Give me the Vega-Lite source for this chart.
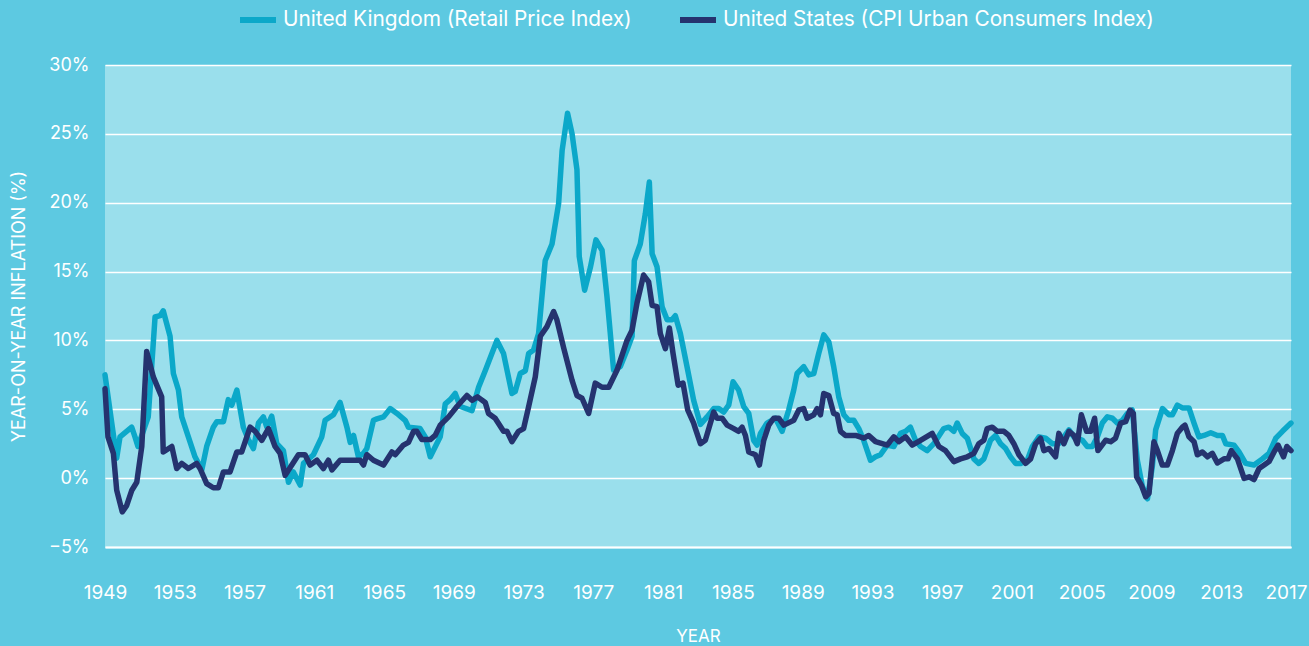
{
  "$schema": "https://vega.github.io/schema/vega-lite/v6.json",
  "autosize": "none",
  "width": 1186,
  "height": 482,
  "padding": {"left": 105, "top": 65, "right": 18, "bottom": 99},
  "background": "#5DC9E1",
  "config": {
    "view": {"fill": "#9ADFEC", "stroke": null},
    "font": "Inter",
    "axis": {"labelFont": "Inter", "titleFont": "Inter", "titleFontWeight": "normal", "labelColor": "#ffffff", "titleColor": "#ffffff"},
    "legend": {"labelFont": "Inter"}
  },
  "datasets": {
    "uk": [
      {"year":1949.00,"value":7.5},{"year":1949.67,"value":1.45},{"year":1949.86,"value":3.0},{"year":1950.53,"value":3.7},{"year":1950.72,"value":3.0},{"year":1950.89,"value":2.3},{"year":1951.48,"value":4.45},{"year":1951.87,"value":11.7},{"year":1952.16,"value":11.8},{"year":1952.34,"value":12.15},{"year":1952.73,"value":10.3},{"year":1952.92,"value":7.6},{"year":1953.21,"value":6.4},{"year":1953.40,"value":4.45},{"year":1953.78,"value":3.0},{"year":1954.16,"value":1.55},{"year":1954.55,"value":0.6},{"year":1954.83,"value":2.3},{"year":1955.21,"value":3.7},{"year":1955.41,"value":4.1},{"year":1955.79,"value":4.1},{"year":1956.07,"value":5.7},{"year":1956.27,"value":5.3},{"year":1956.56,"value":6.4},{"year":1956.93,"value":3.7},{"year":1957.22,"value":2.8},{"year":1957.51,"value":2.15},{"year":1957.80,"value":4.0},{"year":1958.08,"value":4.45},{"year":1958.28,"value":3.7},{"year":1958.56,"value":4.5},{"year":1958.85,"value":2.5},{"year":1959.23,"value":2.0},{"year":1959.52,"value":-0.3},{"year":1959.80,"value":0.45},{"year":1960.19,"value":-0.5},{"year":1960.38,"value":1.07},{"year":1960.95,"value":1.7},{"year":1961.43,"value":3.0},{"year":1961.62,"value":4.2},{"year":1962.10,"value":4.6},{"year":1962.48,"value":5.5},{"year":1962.87,"value":3.7},{"year":1963.06,"value":2.6},{"year":1963.25,"value":3.1},{"year":1963.53,"value":1.55},{"year":1963.82,"value":1.8},{"year":1964.01,"value":2.15},{"year":1964.39,"value":4.2},{"year":1964.59,"value":4.3},{"year":1964.97,"value":4.45},{"year":1965.35,"value":5.05},{"year":1965.74,"value":4.7},{"year":1966.21,"value":4.2},{"year":1966.40,"value":3.7},{"year":1967.07,"value":3.6},{"year":1967.36,"value":3.0},{"year":1967.65,"value":1.55},{"year":1968.22,"value":3.0},{"year":1968.51,"value":5.4},{"year":1968.79,"value":5.7},{"year":1969.08,"value":6.15},{"year":1969.37,"value":5.2},{"year":1970.04,"value":4.9},{"year":1970.42,"value":6.6},{"year":1970.80,"value":7.8},{"year":1971.47,"value":10.0},{"year":1971.85,"value":9.05},{"year":1972.33,"value":6.15},{"year":1972.52,"value":6.3},{"year":1972.81,"value":7.6},{"year":1973.10,"value":7.8},{"year":1973.29,"value":9.05},{"year":1973.57,"value":9.3},{"year":1973.86,"value":10.5},{"year":1974.24,"value":15.8},{"year":1974.63,"value":17.0},{"year":1975.01,"value":19.95},{"year":1975.21,"value":23.8},{"year":1975.52,"value":26.5},{"year":1975.78,"value":25.0},{"year":1976.06,"value":22.4},{"year":1976.19,"value":16.1},{"year":1976.50,"value":13.65},{"year":1976.83,"value":15.3},{"year":1977.15,"value":17.3},{"year":1977.50,"value":16.55},{"year":1977.78,"value":13.2},{"year":1978.16,"value":7.85},{"year":1978.55,"value":8.1},{"year":1978.93,"value":9.3},{"year":1979.22,"value":10.3},{"year":1979.35,"value":15.8},{"year":1979.69,"value":17.0},{"year":1979.98,"value":19.2},{"year":1980.21,"value":21.5},{"year":1980.37,"value":16.3},{"year":1980.65,"value":15.35},{"year":1980.94,"value":12.45},{"year":1981.23,"value":11.5},{"year":1981.51,"value":11.5},{"year":1981.70,"value":11.8},{"year":1981.99,"value":10.5},{"year":1982.37,"value":8.1},{"year":1982.75,"value":5.65},{"year":1983.14,"value":3.9},{"year":1983.52,"value":4.45},{"year":1983.90,"value":5.05},{"year":1984.19,"value":5.05},{"year":1984.47,"value":4.8},{"year":1984.76,"value":5.3},{"year":1985.01,"value":7.0},{"year":1985.33,"value":6.4},{"year":1985.62,"value":5.2},{"year":1985.91,"value":4.7},{"year":1986.19,"value":2.75},{"year":1986.39,"value":2.4},{"year":1986.58,"value":3.25},{"year":1986.96,"value":4.0},{"year":1987.44,"value":4.35},{"year":1987.82,"value":3.4},{"year":1988.20,"value":4.95},{"year":1988.49,"value":6.4},{"year":1988.68,"value":7.6},{"year":1989.06,"value":8.1},{"year":1989.35,"value":7.5},{"year":1989.64,"value":7.6},{"year":1989.92,"value":9.05},{"year":1990.21,"value":10.4},{"year":1990.50,"value":9.9},{"year":1990.78,"value":8.1},{"year":1991.07,"value":5.9},{"year":1991.36,"value":4.6},{"year":1991.64,"value":4.2},{"year":1991.93,"value":4.2},{"year":1992.22,"value":3.6},{"year":1992.50,"value":2.75},{"year":1992.89,"value":1.3},{"year":1993.18,"value":1.55},{"year":1993.46,"value":1.7},{"year":1993.85,"value":2.4},{"year":1994.23,"value":2.3},{"year":1994.61,"value":3.25},{"year":1994.90,"value":3.4},{"year":1995.18,"value":3.7},{"year":1995.47,"value":2.75},{"year":1995.76,"value":2.3},{"year":1996.14,"value":2.0},{"year":1996.52,"value":2.5},{"year":1997.09,"value":3.6},{"year":1997.38,"value":3.7},{"year":1997.67,"value":3.4},{"year":1997.86,"value":4.0},{"year":1998.15,"value":3.25},{"year":1998.44,"value":2.9},{"year":1998.82,"value":1.4},{"year":1999.10,"value":1.07},{"year":1999.39,"value":1.4},{"year":1999.77,"value":2.75},{"year":2000.06,"value":3.1},{"year":2000.35,"value":2.5},{"year":2000.64,"value":2.15},{"year":2000.92,"value":1.55},{"year":2001.21,"value":1.07},{"year":2001.50,"value":1.07},{"year":2001.88,"value":1.3},{"year":2002.17,"value":2.3},{"year":2002.55,"value":3.0},{"year":2002.93,"value":2.9},{"year":2003.31,"value":2.5},{"year":2003.69,"value":2.5},{"year":2004.27,"value":3.5},{"year":2004.55,"value":3.0},{"year":2005.04,"value":2.75},{"year":2005.32,"value":2.3},{"year":2005.61,"value":2.3},{"year":2005.90,"value":3.0},{"year":2006.18,"value":4.0},{"year":2006.47,"value":4.45},{"year":2006.76,"value":4.35},{"year":2007.04,"value":4.0},{"year":2007.33,"value":4.2},{"year":2007.62,"value":4.7},{"year":2007.90,"value":4.95},{"year":2008.19,"value":1.3},{"year":2008.48,"value":-0.6},{"year":2008.77,"value":-1.5},{"year":2009.05,"value":0.85},{"year":2009.24,"value":3.5},{"year":2009.63,"value":5.05},{"year":2010.00,"value":4.6},{"year":2010.20,"value":4.6},{"year":2010.48,"value":5.3},{"year":2010.77,"value":5.1},{"year":2011.15,"value":5.1},{"year":2011.44,"value":4.0},{"year":2011.72,"value":3.0},{"year":2012.01,"value":3.1},{"year":2012.40,"value":3.3},{"year":2012.78,"value":3.1},{"year":2013.07,"value":3.1},{"year":2013.26,"value":2.5},{"year":2013.73,"value":2.4},{"year":2014.02,"value":1.9},{"year":2014.40,"value":1.07},{"year":2014.88,"value":0.95},{"year":2015.36,"value":1.4},{"year":2015.74,"value":1.8},{"year":2016.13,"value":2.9},{"year":2016.51,"value":3.4},{"year":2017.00,"value":4.0}
    ],
    "us": [
      {"year":1949.00,"value":6.5},{"year":1949.17,"value":3.0},{"year":1949.48,"value":1.8},{"year":1949.67,"value":-0.87},{"year":1949.99,"value":-2.45},{"year":1950.24,"value":-2.0},{"year":1950.53,"value":-0.9},{"year":1950.82,"value":-0.3},{"year":1951.11,"value":2.3},{"year":1951.39,"value":9.2},{"year":1951.77,"value":7.35},{"year":1952.25,"value":5.9},{"year":1952.34,"value":1.9},{"year":1952.83,"value":2.3},{"year":1953.11,"value":0.7},{"year":1953.40,"value":1.07},{"year":1953.78,"value":0.7},{"year":1954.26,"value":1.07},{"year":1954.45,"value":0.7},{"year":1954.83,"value":-0.4},{"year":1955.21,"value":-0.7},{"year":1955.50,"value":-0.7},{"year":1955.79,"value":0.45},{"year":1956.17,"value":0.45},{"year":1956.56,"value":1.9},{"year":1956.84,"value":1.9},{"year":1957.32,"value":3.7},{"year":1957.61,"value":3.4},{"year":1957.99,"value":2.75},{"year":1958.37,"value":3.6},{"year":1958.75,"value":2.3},{"year":1959.04,"value":1.8},{"year":1959.33,"value":0.2},{"year":1959.71,"value":0.95},{"year":1960.09,"value":1.7},{"year":1960.47,"value":1.7},{"year":1960.76,"value":0.95},{"year":1961.15,"value":1.3},{"year":1961.52,"value":0.7},{"year":1961.81,"value":1.3},{"year":1962.01,"value":0.6},{"year":1962.48,"value":1.3},{"year":1963.63,"value":1.3},{"year":1963.82,"value":0.95},{"year":1964.01,"value":1.7},{"year":1964.39,"value":1.3},{"year":1964.97,"value":0.95},{"year":1965.45,"value":1.9},{"year":1965.64,"value":1.7},{"year":1966.11,"value":2.4},{"year":1966.40,"value":2.6},{"year":1966.69,"value":3.4},{"year":1966.88,"value":3.4},{"year":1967.17,"value":2.8},{"year":1967.65,"value":2.8},{"year":1967.93,"value":3.1},{"year":1968.22,"value":3.85},{"year":1968.70,"value":4.45},{"year":1969.18,"value":5.2},{"year":1969.75,"value":6.0},{"year":1970.04,"value":5.65},{"year":1970.36,"value":5.9},{"year":1970.80,"value":5.5},{"year":1970.99,"value":4.7},{"year":1971.37,"value":4.35},{"year":1971.85,"value":3.4},{"year":1972.05,"value":3.4},{"year":1972.33,"value":2.65},{"year":1972.71,"value":3.4},{"year":1973.00,"value":3.6},{"year":1973.29,"value":5.2},{"year":1973.67,"value":7.35},{"year":1973.96,"value":10.3},{"year":1974.34,"value":11.0},{"year":1974.72,"value":12.1},{"year":1974.91,"value":11.5},{"year":1975.29,"value":9.5},{"year":1975.78,"value":7.1},{"year":1976.06,"value":6.0},{"year":1976.35,"value":5.8},{"year":1976.73,"value":4.7},{"year":1977.11,"value":6.9},{"year":1977.50,"value":6.6},{"year":1977.88,"value":6.6},{"year":1978.36,"value":7.85},{"year":1978.93,"value":10.0},{"year":1979.22,"value":10.75},{"year":1979.50,"value":12.7},{"year":1979.88,"value":14.75},{"year":1980.17,"value":14.25},{"year":1980.37,"value":12.55},{"year":1980.65,"value":12.45},{"year":1980.84,"value":10.5},{"year":1981.13,"value":9.4},{"year":1981.36,"value":10.9},{"year":1981.57,"value":9.05},{"year":1981.86,"value":6.75},{"year":1982.14,"value":6.9},{"year":1982.41,"value":4.95},{"year":1982.75,"value":4.0},{"year":1982.85,"value":3.6},{"year":1983.14,"value":2.5},{"year":1983.42,"value":2.75},{"year":1983.90,"value":4.8},{"year":1984.09,"value":4.35},{"year":1984.38,"value":4.35},{"year":1984.67,"value":3.85},{"year":1985.05,"value":3.6},{"year":1985.33,"value":3.4},{"year":1985.53,"value":3.7},{"year":1985.72,"value":3.1},{"year":1985.91,"value":1.9},{"year":1986.29,"value":1.7},{"year":1986.52,"value":0.95},{"year":1986.77,"value":2.75},{"year":1987.06,"value":3.85},{"year":1987.34,"value":4.35},{"year":1987.63,"value":4.35},{"year":1987.92,"value":3.85},{"year":1988.49,"value":4.2},{"year":1988.78,"value":4.95},{"year":1989.06,"value":5.05},{"year":1989.26,"value":4.35},{"year":1989.64,"value":4.6},{"year":1989.83,"value":5.05},{"year":1990.02,"value":4.6},{"year":1990.21,"value":6.15},{"year":1990.50,"value":6.0},{"year":1990.78,"value":4.7},{"year":1990.98,"value":4.6},{"year":1991.17,"value":3.4},{"year":1991.45,"value":3.1},{"year":1992.03,"value":3.1},{"year":1992.51,"value":2.9},{"year":1992.79,"value":3.1},{"year":1993.18,"value":2.65},{"year":1993.85,"value":2.4},{"year":1994.23,"value":3.0},{"year":1994.51,"value":2.65},{"year":1994.90,"value":3.0},{"year":1995.28,"value":2.4},{"year":1995.76,"value":2.75},{"year":1996.43,"value":3.25},{"year":1996.81,"value":2.3},{"year":1997.19,"value":2.0},{"year":1997.67,"value":1.2},{"year":1998.05,"value":1.4},{"year":1998.44,"value":1.55},{"year":1998.82,"value":1.8},{"year":1999.10,"value":2.5},{"year":1999.39,"value":2.75},{"year":1999.58,"value":3.6},{"year":1999.87,"value":3.7},{"year":2000.16,"value":3.4},{"year":2000.54,"value":3.4},{"year":2000.82,"value":3.1},{"year":2001.11,"value":2.5},{"year":2001.40,"value":1.7},{"year":2001.78,"value":1.07},{"year":2002.07,"value":1.4},{"year":2002.36,"value":2.5},{"year":2002.64,"value":2.9},{"year":2002.83,"value":2.0},{"year":2003.12,"value":2.15},{"year":2003.50,"value":1.55},{"year":2003.69,"value":3.25},{"year":2003.98,"value":2.5},{"year":2004.27,"value":3.4},{"year":2004.55,"value":3.1},{"year":2004.75,"value":2.5},{"year":2004.98,"value":4.6},{"year":2005.28,"value":3.4},{"year":2005.51,"value":3.4},{"year":2005.74,"value":4.35},{"year":2005.93,"value":2.0},{"year":2006.37,"value":2.75},{"year":2006.66,"value":2.65},{"year":2006.94,"value":2.9},{"year":2007.23,"value":4.0},{"year":2007.52,"value":4.1},{"year":2007.77,"value":4.95},{"year":2007.96,"value":4.7},{"year":2008.15,"value":0.1},{"year":2008.42,"value":-0.5},{"year":2008.67,"value":-1.35},{"year":2008.86,"value":-1.1},{"year":2009.14,"value":2.65},{"year":2009.34,"value":2.0},{"year":2009.62,"value":0.95},{"year":2009.91,"value":0.95},{"year":2010.20,"value":2.0},{"year":2010.48,"value":3.25},{"year":2010.77,"value":3.7},{"year":2010.92,"value":3.85},{"year":2011.15,"value":3.0},{"year":2011.44,"value":2.65},{"year":2011.63,"value":1.7},{"year":2011.92,"value":1.9},{"year":2012.21,"value":1.55},{"year":2012.49,"value":1.8},{"year":2012.78,"value":1.1},{"year":2013.16,"value":1.4},{"year":2013.39,"value":1.4},{"year":2013.58,"value":2.0},{"year":2013.93,"value":1.4},{"year":2014.31,"value":-0.02},{"year":2014.60,"value":0.1},{"year":2014.88,"value":-0.1},{"year":2015.17,"value":0.7},{"year":2015.46,"value":0.95},{"year":2015.74,"value":1.2},{"year":2016.03,"value":1.9},{"year":2016.26,"value":2.4},{"year":2016.57,"value":1.55},{"year":2016.76,"value":2.3},{"year":2017.00,"value":2.0}
    ]
  },
  "encoding": {
    "x": {
      "field": "year", "type": "quantitative",
      "scale": {"domain": [1949, 2017], "nice": false, "zero": false},
      "axis": {
        "values": [1949,1953,1957,1961,1965,1969,1973,1977,1981,1985,1989,1993,1997,2001,2005,2009,2013,2017],
        "format": "d", "title": "YEAR", "grid": false,
        "domain": true, "domainColor": "#ffffff", "domainWidth": 2,
        "ticks": false, "tickSize": 0, "labelPadding": 36, "labelFontSize": 19,
        "labelAlign": {"condition": {"test": "datum.value == 2017", "value": "right"}, "value": "center"},
        "labelOffset": {"condition": {"test": "datum.value == 2017", "value": 16}, "value": 0},
        "labelFlush": false, "labelOverlap": false, "labelBound": false,
        "titleFontSize": 17, "titleX": 593, "titleY": 94, "titleBaseline": "alphabetic", "titleAlign": "center"
      }
    },
    "y": {
      "field": "value", "type": "quantitative",
      "scale": {"domain": [-5, 30], "nice": false, "zero": false},
      "axis": {
        "values": [-5,0,5,10,15,20,25,30], "format": "d", "labelExpr": "datum.label + '%'",
        "title": "YEAR-ON-YEAR INFLATION (%)", "grid": true, "gridColor": "#ffffff", "gridWidth": 1.5,
        "domain": false, "ticks": false, "tickSize": 0, "labelPadding": 16, "labelFontSize": 18,
        "titleFontSize": 18, "titleX": -86, "titleY": 241, "titleAngle": -90,
        "titleBaseline": "middle", "titleAlign": "center"
      }
    }
  },
  "layer": [
    {
      "data": {"name": "uk"},
      "mark": {"type": "line", "strokeWidth": 5.5, "strokeCap": "round", "strokeJoin": "round"},
      "encoding": {
        "color": {
          "datum": "United Kingdom (Retail Price Index)", "type": "nominal",
          "scale": {"domain": ["United Kingdom (Retail Price Index)", "United States (CPI Urban Consumers Index)"], "range": ["#0BA8C9", "#25336F"]},
          "legend": {
            "orient": "none", "legendX": 132, "legendY": -66, "direction": "horizontal", "title": null,
            "symbolType": "stroke", "symbolStrokeWidth": 6, "symbolSize": 1296,
            "labelFontSize": 20.8, "labelColor": "#ffffff", "labelOffset": 4, "columnPadding": 36, "labelLimit": 600
          }
        }
      }
    },
    {
      "data": {"name": "us"},
      "mark": {"type": "line", "strokeWidth": 5.5, "strokeCap": "round", "strokeJoin": "round"},
      "encoding": {
        "color": {"datum": "United States (CPI Urban Consumers Index)", "type": "nominal"}
      }
    }
  ]
}
